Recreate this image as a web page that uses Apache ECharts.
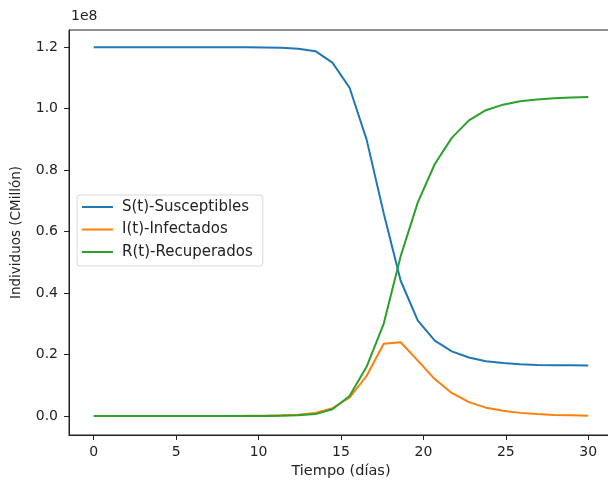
<!DOCTYPE html>
<html lang="es">
<head>
  <meta charset="UTF-8">
  <title>Modelo SIR</title>
  <script src="https://cdn.jsdelivr.net/npm/echarts@6/dist/echarts.min.js"></script>
  <style>
    html, body { margin: 0; padding: 0; background: #fff; }
    #main { width: 608px; height: 480px; }
  </style>
</head>
<body>
  <div id="main"></div>
  <script type="text/javascript">
    // tiempo (dias) y valores en unidades de 1e8 individuos
    var tiempo = [0, 1.03, 2.07, 3.10, 4.14, 5.17, 6.21, 7.24, 8.28, 9.31,
                  10.34, 11.38, 12.41, 13.45, 14.48, 15.52, 16.55, 17.59, 18.62, 19.66,
                  20.69, 21.72, 22.76, 23.79, 24.83, 25.86, 26.90, 27.93, 28.97, 30];
    var susceptibles = [1.2, 1.2, 1.2, 1.2, 1.2, 1.2, 1.2, 1.2, 1.2, 1.2,
                        1.199, 1.198, 1.195, 1.187, 1.15, 1.068, 0.90, 0.66, 0.44, 0.31,
                        0.245, 0.21, 0.19, 0.178, 0.172, 0.168, 0.166, 0.165, 0.165, 0.164];
    var infectados = [0, 0, 0, 0, 0, 0, 0, 0, 0, 0.0005,
                      0.001, 0.002, 0.004, 0.01, 0.025, 0.06, 0.13, 0.235, 0.24, 0.18,
                      0.12, 0.075, 0.045, 0.027, 0.017, 0.01, 0.006, 0.003, 0.002, 0.001];
    var recuperados = [0, 0, 0, 0, 0, 0, 0, 0, 0, 0,
                       0, 0.001, 0.002, 0.006, 0.022, 0.065, 0.16, 0.30, 0.52, 0.695,
                       0.82, 0.905, 0.962, 0.995, 1.013, 1.024, 1.03, 1.034, 1.036, 1.038];
    var xTicks = [0, 5, 10, 15, 20, 25, 30];
    var yTicks = [0, 0.2, 0.4, 0.6, 0.8, 1.0, 1.2];

    function pares(ys) {
      return tiempo.map(function (t, i) { return [t, ys[i]]; });
    }

    var fuente = 'DejaVu Sans';
    var myChart = echarts.init(document.getElementById('main'));
    myChart.setOption({
      backgroundColor: '#fff',
      animation: false,
      textStyle: { fontFamily: fuente },
      graphic: [{
        type: 'text', left: 71, top: 9,
        style: { text: '1e8', font: '14px "DejaVu Sans"', fill: '#222' }
      }],
      legend: {
        orient: 'vertical',
        left: 77, top: 195,
        padding: [4, 10, 6, 5],
        icon: 'rect',
        itemWidth: 31, itemHeight: 2, itemGap: 6.5,
        borderColor: '#d8d8d8', borderWidth: 1, borderRadius: 3,
        backgroundColor: 'rgba(255,255,255,0.85)',
        textStyle: { fontFamily: fuente, fontSize: 15, color: '#222', lineHeight: 16, padding: [0, 0, 0, 4] },
        data: ['S(t)-Susceptibles', 'I(t)-Infectados', 'R(t)-Recuperados']
      },
      grid: {
        left: 69, top: 30, width: 544, height: 405,
        outerBoundsMode: 'none',
        show: true, borderColor: '#222', borderWidth: 1,
        containLabel: false
      },
      xAxis: {
        type: 'value', min: -1.5, max: 31.5,
        name: 'Tiempo (días)', nameLocation: 'middle', nameGap: 28,
        nameTextStyle: { fontFamily: fuente, fontSize: 14.5, color: '#222' },
        axisLine: { show: true, onZero: false, lineStyle: { color: '#222', width: 1 } },
        axisTick: { show: true, length: 5, customValues: xTicks, lineStyle: { color: '#222' } },
        axisLabel: { customValues: xTicks, margin: 10, fontSize: 14, color: '#222', fontFamily: fuente },
        splitLine: { show: false }
      },
      yAxis: {
        type: 'value', min: -0.062, max: 1.256,
        name: 'Individuos (CMillón)', nameLocation: 'middle', nameGap: 46,
        nameTextStyle: { fontFamily: fuente, fontSize: 13.5, color: '#222' },
        axisLine: { show: true, onZero: false, lineStyle: { color: '#222', width: 1 } },
        axisTick: { show: true, length: 5, customValues: yTicks, lineStyle: { color: '#222' } },
        axisLabel: {
          customValues: yTicks, margin: 11, fontSize: 14, color: '#222', fontFamily: fuente,
          formatter: function (v) { return v.toFixed(1); }
        },
        splitLine: { show: false }
      },
      series: [{
        name: 'S(t)-Susceptibles', type: 'line', data: pares(susceptibles),
        symbol: 'none', color: '#1f77b4', lineStyle: { width: 2 }
      }, {
        name: 'I(t)-Infectados', type: 'line', data: pares(infectados),
        symbol: 'none', color: '#ff7f0e', lineStyle: { width: 2 }
      }, {
        name: 'R(t)-Recuperados', type: 'line', data: pares(recuperados),
        symbol: 'none', color: '#2ca02c', lineStyle: { width: 2 }
      }]
    });
  </script>
</body>
</html>
